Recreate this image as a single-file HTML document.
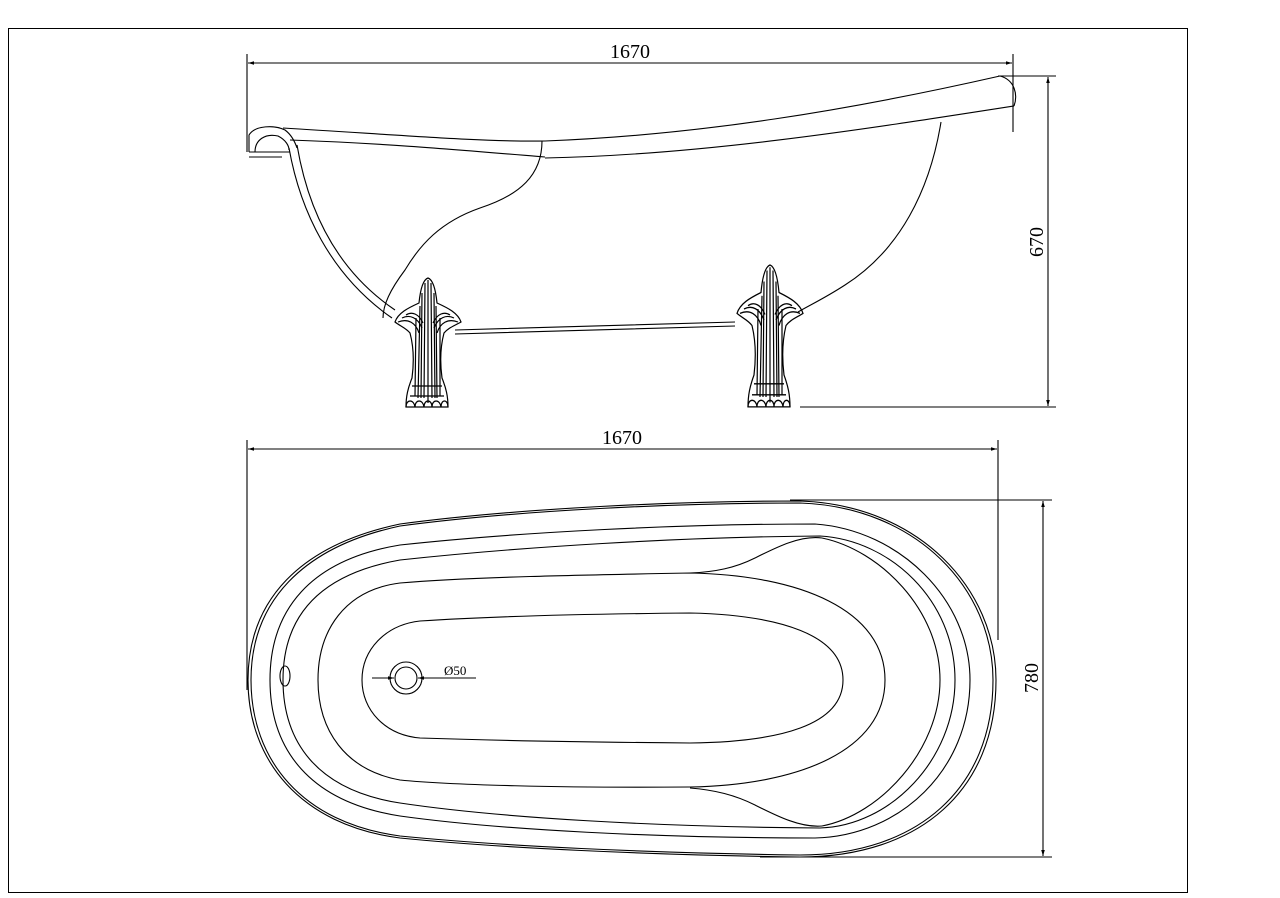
<!DOCTYPE html>
<html><head><meta charset="utf-8"><style>
html,body{margin:0;padding:0;background:#fff;}
svg{display:block;}
text{font-family:"Liberation Serif",serif;fill:#000;}
</style></head><body>
<svg width="1280" height="898" viewBox="0 0 1280 898" xmlns="http://www.w3.org/2000/svg">
<defs>
<marker id="ar" viewBox="0 0 10 10" refX="10" refY="5" markerWidth="10" markerHeight="6" orient="auto-start-reverse" markerUnits="userSpaceOnUse"><path d="M0,2 L10,5 L0,8 Z" fill="#000"/></marker>
<g id="leg" fill="none" stroke="#000" stroke-width="1.2">
<path d="M0,0 C-6,2 -8,15 -9,25 C-20,30 -30,35 -33,44 C-28,48 -22,50 -18,55 C-14,70 -14,85 -16,100 C-20,110 -22,118 -22,129 L20,129 C20,118 18,110 14,100 C12,85 12,70 16,55 C20,50 26,48 33,44 C30,35 20,30 9,25 C8,15 6,2 0,0 Z"/>
<path d="M-3,5 L-4,120 M3,5 L4,120 M-8,28 L-10,120 M8,28 L9,120 M0,2 L0,125 M-6,15 L-7,120 M6,15 L7,120 M-12,40 L-13,118 M12,40 L12,118"/>
<path d="M-30,44 C-20,40 -12,45 -9,55 M30,44 C20,40 12,45 9,55 M-26,40 C-18,36 -10,40 -6,50 M26,40 C18,36 10,40 6,50 M-22,37 C-16,33 -9,36 -5,45 M22,37 C16,33 9,36 5,45"/>
<path d="M-22,129 C-22,121 -14,121 -13,129 C-13,121 -5,121 -4,129 C-4,121 4,121 4,129 C4,121 12,121 13,129 C13,121 20,121 20,129"/>
<path d="M-18,118 L16,118 M-16,108 L14,108"/>
</g>
</defs>
<rect x="8.5" y="28.5" width="1179" height="864" fill="none" stroke="#000" stroke-width="1"/>
<g fill="none" stroke="#000" stroke-width="1.1">
<line x1="247" y1="54" x2="247" y2="152"/>
<line x1="1013" y1="54" x2="1013" y2="132"/>
<line x1="248" y1="63" x2="1012" y2="63" marker-start="url(#ar)" marker-end="url(#ar)"/>
<line x1="998" y1="76" x2="1056" y2="76"/>
<line x1="800" y1="407" x2="1056" y2="407"/>
<line x1="1048" y1="77" x2="1048" y2="406" marker-start="url(#ar)" marker-end="url(#ar)"/>
<path d="M283,128 C400,135 480,142 545,141 C700,135 850,110 1000,76"/>
<path d="M1000,76 C1015,80 1018,95 1014,106"/>
<path d="M1014,106 C860,130 700,155 545,158"/>
<path d="M290,140 C380,143 460,150 545,157"/>
<path d="M542,141 C542,175 520,195 480,208 C440,222 420,245 405,270 C390,290 383,305 383,318"/>
<path d="M941,122 C930,190 900,250 845,285 C825,298 810,305 798,312"/>
<path d="M289,148 C300,210 330,275 392,318"/>
<path d="M297,145 C308,210 336,270 395,310"/>
<path d="M249,152 L249,135 C255,125 275,125 285,130 C293,136 296,145 297,148"/>
<path d="M255,152 C255,140 265,133 278,136 C286,140 289,146 289,150"/>
<path d="M249,152 L290,152 M249,157 L282,157"/>
<path d="M455,330 L735,322 M455,334 L735,326"/>
<use href="#leg" x="428" y="278"/>
<use href="#leg" transform="translate(770,265) scale(1,1.1)"/>
<line x1="247" y1="440" x2="247" y2="690"/>
<line x1="998" y1="440" x2="998" y2="640"/>
<line x1="248" y1="449" x2="997" y2="449" marker-start="url(#ar)" marker-end="url(#ar)"/>
<line x1="790" y1="500" x2="1052" y2="500"/>
<line x1="760" y1="857" x2="1052" y2="857"/>
<line x1="1043" y1="501" x2="1043" y2="856" marker-start="url(#ar)" marker-end="url(#ar)"/>
<path d="M800,501 C920,505 996,590 996,680 C996,790 920,857 800,857 C650,855 500,848 400,838 C300,825 248,760 248,680 C248,600 300,545 400,524 C520,508 680,501 800,501 Z"/>
<path d="M800,503 C918,507 993,590 993,680 C993,788 918,855 800,855 C650,853 500,846 400,836 C302,823 251,760 251,680 C251,602 302,547 400,526 C520,510 680,503 800,503 Z"/>
<path d="M815,524 C900,530 970,600 970,680 C970,770 900,836 815,838 C660,838 500,830 400,816 C310,802 270,750 270,680 C270,610 310,560 400,545 C520,532 680,524 815,524 Z"/>
<path d="M820,536 C890,540 955,600 955,680 C955,760 890,826 820,828 C660,827 500,818 400,803 C315,790 283,740 283,680 C283,620 315,575 400,560 C520,547 680,537 820,536 Z"/>
<path d="M822,538 C800,535 775,548 755,558 C735,568 715,572 690,573"/>
<path d="M822,826 C800,828 775,815 755,805 C735,795 715,790 690,788"/>
<path d="M822,538 C880,550 940,610 940,680 C940,750 880,815 822,826"/>
<path d="M690,573 C800,575 885,610 885,680 C885,750 800,785 690,787 C560,788 450,785 400,780 C345,770 318,730 318,680 C318,630 345,590 400,583 C470,577 580,575 690,573 Z"/>
<path d="M690,613 C780,615 843,635 843,680 C843,725 780,742 690,743 C560,742 480,740 420,738 C385,735 362,710 362,680 C362,650 385,625 420,621 C480,617 580,614 690,613 Z"/>
<ellipse cx="285" cy="676" rx="5" ry="10"/>
<circle cx="406" cy="678" r="16"/>
<circle cx="406" cy="678" r="11"/>
<line x1="372" y1="678" x2="394" y2="678" marker-end="url(#ar)"/>
<line x1="476" y1="678" x2="418" y2="678" marker-end="url(#ar)"/>
</g>
<text x="630" y="58" font-size="20" text-anchor="middle">1670</text>
<text x="622" y="444" font-size="20" text-anchor="middle">1670</text>
<text x="0" y="0" font-size="20" text-anchor="middle" transform="translate(1043,242) rotate(-90)">670</text>
<text x="0" y="0" font-size="20" text-anchor="middle" transform="translate(1038,678) rotate(-90)">780</text>
<text x="444" y="675" font-size="13">Ø50</text>
</svg>
</body></html>
